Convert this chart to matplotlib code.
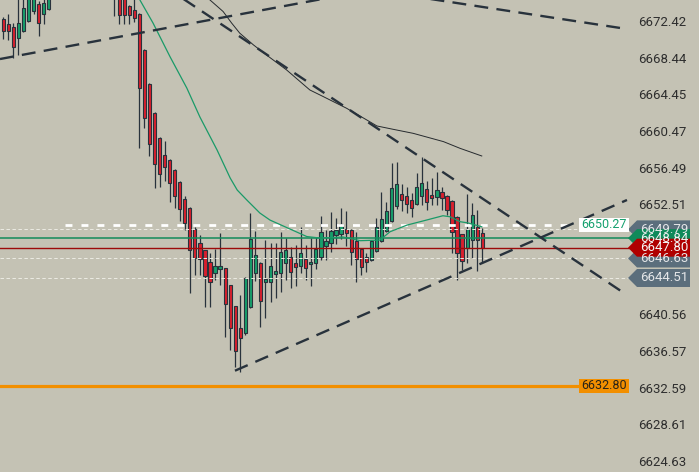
import numpy as np
import matplotlib
matplotlib.use("Agg")
import matplotlib.pyplot as plt
from matplotlib.patches import Polygon, Rectangle
from matplotlib.transforms import blended_transform_factory

plt.rcParams['font.family'] = ['Roboto', 'DejaVu Sans']
plt.rcParams['lines.scale_dashes'] = False

# candle data, one entry per bar
opens = [6672.64, 6672.09, 6671.74, 6670.61, 6671.37, 6672.45, 6673.54, 6674.27, 6673.15, 6673.69,
         6675.40, 6676.50, 6677.60, 6677.20, 6678.30, 6678.00, 6677.30, 6677.90, 6677.40, 6676.80,
         6677.20, 6676.40, 6676.00, 6675.00, 6674.90, 6674.05, 6673.61, 6673.18, 6669.27, 6665.58,
         6662.40, 6659.68, 6657.87, 6657.32, 6656.24, 6654.90, 6653.09, 6652.08, 6649.83, 6648.28,
         6647.55, 6646.21, 6645.02, 6645.46, 6645.56, 6643.71, 6641.47, 6639.04, 6638.50, 6641.39,
         6645.02, 6646.10, 6644.04, 6644.11, 6644.89, 6645.02, 6646.10, 6646.82, 6646.10, 6645.85,
         6646.54, 6646.00, 6646.10, 6646.76, 6648.02, 6648.28, 6649.18, 6649.29, 6649.80, 6649.72,
         6648.53, 6647.62, 6646.76, 6646.46, 6647.44, 6648.53, 6649.61, 6650.70, 6652.36, 6653.63,
         6653.42, 6652.98, 6652.51, 6653.42, 6654.14, 6653.52, 6653.34, 6653.82, 6653.45, 6652.87,
         6651.17, 6649.25, 6647.73, 6648.63, 6650.02, 6649.37]
highs = [6672.89, 6673.18, 6672.17, 6675.20, 6675.50, 6676.00, 6676.00, 6674.60, 6675.20, 6676.20,
         6677.00, 6678.20, 6679.00, 6678.80, 6679.60, 6679.20, 6678.50, 6679.00, 6678.30, 6677.90,
         6678.00, 6677.30, 6676.80, 6675.60, 6675.30, 6674.20, 6674.90, 6673.30, 6669.40, 6665.70,
         6662.50, 6659.80, 6659.39, 6657.40, 6656.40, 6655.00, 6653.42, 6652.20, 6650.08, 6649.18,
         6647.60, 6647.19, 6647.66, 6649.43, 6645.60, 6643.80, 6641.50, 6642.66, 6644.62, 6651.53,
         6649.61, 6646.24, 6648.63, 6648.31, 6648.28, 6649.54, 6648.85, 6647.91, 6648.09, 6650.06,
         6648.09, 6648.82, 6649.00, 6651.24, 6649.72, 6651.64, 6651.00, 6652.08, 6651.78, 6649.80,
         6649.50, 6647.80, 6647.22, 6648.60, 6651.00, 6653.88, 6652.80, 6657.03, 6657.07, 6654.69,
         6654.42, 6653.71, 6655.88, 6657.62, 6655.07, 6655.34, 6656.06, 6654.42, 6653.50, 6653.00,
         6651.20, 6649.30, 6653.63, 6652.62, 6651.89, 6649.91]
lows = [6670.43, 6670.36, 6668.37, 6668.73, 6671.20, 6672.30, 6673.18, 6670.82, 6672.09, 6673.60,
        6675.00, 6676.00, 6676.80, 6676.50, 6677.50, 6676.90, 6676.20, 6677.00, 6676.30, 6675.80,
        6676.00, 6675.30, 6672.96, 6672.09, 6672.09, 6672.09, 6672.31, 6658.66, 6660.83, 6657.79,
        6654.25, 6654.42, 6655.04, 6652.80, 6652.14, 6650.70, 6649.72, 6642.85, 6644.83, 6644.83,
        6641.39, 6641.39, 6644.29, 6643.75, 6638.13, 6636.69, 6634.87, 6634.33, 6638.32, 6641.30,
        6644.18, 6639.22, 6640.13, 6641.93, 6642.30, 6643.02, 6644.29, 6643.40, 6643.64, 6645.02,
        6644.29, 6643.64, 6645.46, 6646.46, 6646.46, 6647.36, 6648.20, 6648.70, 6648.00, 6645.92,
        6644.11, 6644.83, 6645.20, 6646.40, 6647.36, 6648.40, 6649.50, 6650.60, 6652.00, 6651.78,
        6651.53, 6651.10, 6652.40, 6652.44, 6651.89, 6652.44, 6652.44, 6651.89, 6651.35, 6647.20,
        6644.29, 6645.38, 6646.10, 6646.65, 6645.31, 6646.10]
closes = [6671.37, 6671.37, 6669.63, 6672.17, 6673.80, 6675.10, 6675.30, 6672.24, 6674.34, 6675.40,
          6676.50, 6677.60, 6677.20, 6678.30, 6678.00, 6677.30, 6677.90, 6677.40, 6676.80, 6677.20,
          6676.40, 6676.00, 6675.00, 6673.07, 6673.07, 6673.07, 6672.71, 6665.18, 6661.85, 6659.03,
          6656.86, 6655.80, 6656.60, 6654.86, 6653.45, 6652.00, 6650.52, 6647.55, 6646.65, 6646.54,
          6644.76, 6644.04, 6645.81, 6645.81, 6641.65, 6639.04, 6636.61, 6637.96, 6644.47, 6648.74,
          6647.01, 6642.04, 6644.40, 6645.81, 6645.27, 6647.30, 6647.51, 6645.13, 6645.73, 6647.19,
          6645.56, 6646.24, 6647.62, 6649.47, 6648.53, 6649.61, 6649.72, 6650.37, 6649.37, 6647.33,
          6646.54, 6645.73, 6646.21, 6648.56, 6650.02, 6650.88, 6651.78, 6654.25, 6654.72, 6652.98,
          6652.51, 6652.08, 6654.36, 6654.86, 6652.73, 6653.23, 6654.07, 6653.16, 6651.89, 6649.47,
          6647.19, 6646.39, 6649.83, 6651.35, 6648.63, 6647.80]

# moving averages (bar index, price)
ma_fast_x = [27.1, 29.7, 33.1, 36.4, 39.0, 42.4, 45.0, 46.4, 48.3, 50.9, 52.9, 56.9, 60.2, 62.8,
             67.4, 70.8, 74.7, 76.7, 80.1, 84.0, 87.2, 88.6, 90.6, 92.0, 94.9]
ma_fast_y = [6674.70, 6672.20, 6668.51, 6665.14, 6661.99, 6658.41, 6655.37, 6654.06, 6652.98,
             6651.56, 6650.80, 6649.82, 6649.01, 6648.85, 6648.96, 6648.56, 6648.63, 6649.53,
             6650.26, 6650.81, 6651.27, 6651.16, 6650.62, 6650.51, 6650.07]
ma_slow_x = [41.0, 43.6, 45.3, 46.9, 49.6, 52.2, 56.2, 60.8, 63.5, 68.1, 72.1, 74.1, 77.3, 81.3,
             87.3, 90.6, 94.9]
ma_slow_y = [6674.70, 6673.45, 6672.19, 6671.10, 6669.83, 6668.73, 6667.10, 6664.93, 6664.20,
             6662.94, 6661.67, 6661.02, 6660.66, 6660.22, 6659.32, 6658.59, 6657.76]

# trend lines: (x0, y0, x1, y1) in bar index / price
trend_lines = [(-0.65, 6668.29, 66.0, 6675.09),
               (33.0, 6675.81, 123.7, 6642.66),
               (84.0, 6674.87, 123.7, 6671.55),
               (45.95, 6634.44, 123.7, 6652.98)]

# price levels
bid = 6647.80
ma_level = 6648.84
white_level = 6650.27
orange_level = 6632.80
grey_levels = [6649.79, 6646.63, 6644.51]
yticks = [6672.42, 6668.44, 6664.45, 6660.47, 6656.49, 6652.51,
          6640.56, 6636.57, 6632.59, 6628.61, 6624.63]

BG = '#c4c2b4'
DARK = '#28323c'
W, H = 699, 472

fig = plt.figure(figsize=(W / 100, H / 100), dpi=100, facecolor=BG)
ax = fig.add_axes([0, 0, 630 / W, 1])
ax.set_facecolor(BG)
ax.set_xlim(-0.65, 124.3)
ax.set_ylim(6623.44, 6674.70)
for s in ax.spines.values():
    s.set_visible(False)
ax.set_xticks([])
ax.set_yticks(yticks)
ax.set_yticklabels([f"{t:.2f}" for t in yticks])
ax.yaxis.tick_right()
ax.tick_params(axis='y', length=0, pad=6, labelsize=9.5, labelcolor='#2e2e2e')

# candles
o = np.array(opens)
c = np.array(closes)
idx = np.arange(len(o))
up = c >= o
colors = np.where(up, '#17a06b', '#d91f2d')
ax.vlines(idx, lows, highs, color=DARK, lw=0.9, zorder=2)
ax.bar(idx, np.maximum(np.abs(c - o), 0.12), bottom=np.minimum(o, c), width=0.64,
       color=colors, edgecolor=DARK, linewidth=0.8, zorder=3)

# horizontal levels
for lvl in grey_levels:
    ax.axhline(lvl, color='#ecebe3', lw=0.7, dashes=(2.5, 1.8), zorder=4)
ax.axhline(ma_level, color='#128b5b', lw=1.1, zorder=4)
ax.axhline(bid, color='#9c0a0a', lw=1.0, zorder=4)
ax.plot([12.2, 113.5], [white_level, white_level], color='white', lw=2.0, dashes=(5, 6.5), zorder=4)
ax.plot([-0.65, 114.4], [orange_level, orange_level], color='#f28f00', lw=2.3, zorder=4)

# moving averages
ax.plot(ma_fast_x, ma_fast_y, color='#1a9a68', lw=0.9, zorder=5)
ax.plot(ma_slow_x, ma_slow_y, color='#262a2e', lw=0.7, zorder=5)

# trend lines
for x0, y0, x1, y1 in trend_lines:
    ax.plot([x0, x1], [y0, y1], color=DARK, lw=1.7, dashes=(10, 6), zorder=6,
            solid_capstyle='butt', dash_capstyle='butt')

# price labels on the right
tr = blended_transform_factory(fig.transFigure, ax.transData)
hh = 9 / 9.207


def tag(price, face, txtcolor):
    pts = [(628 / W, price), (637 / W, price + hh), (690 / W, price + hh),
           (690 / W, price - hh), (637 / W, price - hh)]
    ax.add_patch(Polygon(pts, closed=True, facecolor=face, edgecolor='none',
                         transform=tr, clip_on=False, zorder=10))
    ax.text(640 / W, price, f"{price:.2f}", transform=tr, color=txtcolor, fontsize=9.5,
            va='center', ha='left', clip_on=False, zorder=11)


for lvl in grey_levels:
    tag(lvl, '#5b6e7c', '#e4e6e8')
tag(ma_level, '#0f8a5a', '#f2f2f2')
tag(bid, '#b00000', '#f5f5f5')

# boxes inside the plot
h2 = 7 / 9.207
ax.add_patch(Rectangle((579 / W, white_level - h2), 50 / W, 2 * h2, facecolor='white',
                       edgecolor='none', transform=tr, clip_on=False, zorder=10))
ax.text(604 / W, white_level, f"{white_level:.2f}", transform=tr, color='#14a06e',
        fontsize=9, va='center', ha='center', zorder=11)
ax.add_patch(Rectangle((579 / W, orange_level - h2), 50 / W, 2 * h2, facecolor='#f28f00',
                       edgecolor='none', transform=tr, clip_on=False, zorder=10))
ax.text(604 / W, orange_level, f"{orange_level:.2f}", transform=tr, color='#2a2418',
        fontsize=9, va='center', ha='center', zorder=11)

fig.savefig('out.png', dpi=100, facecolor=BG)
